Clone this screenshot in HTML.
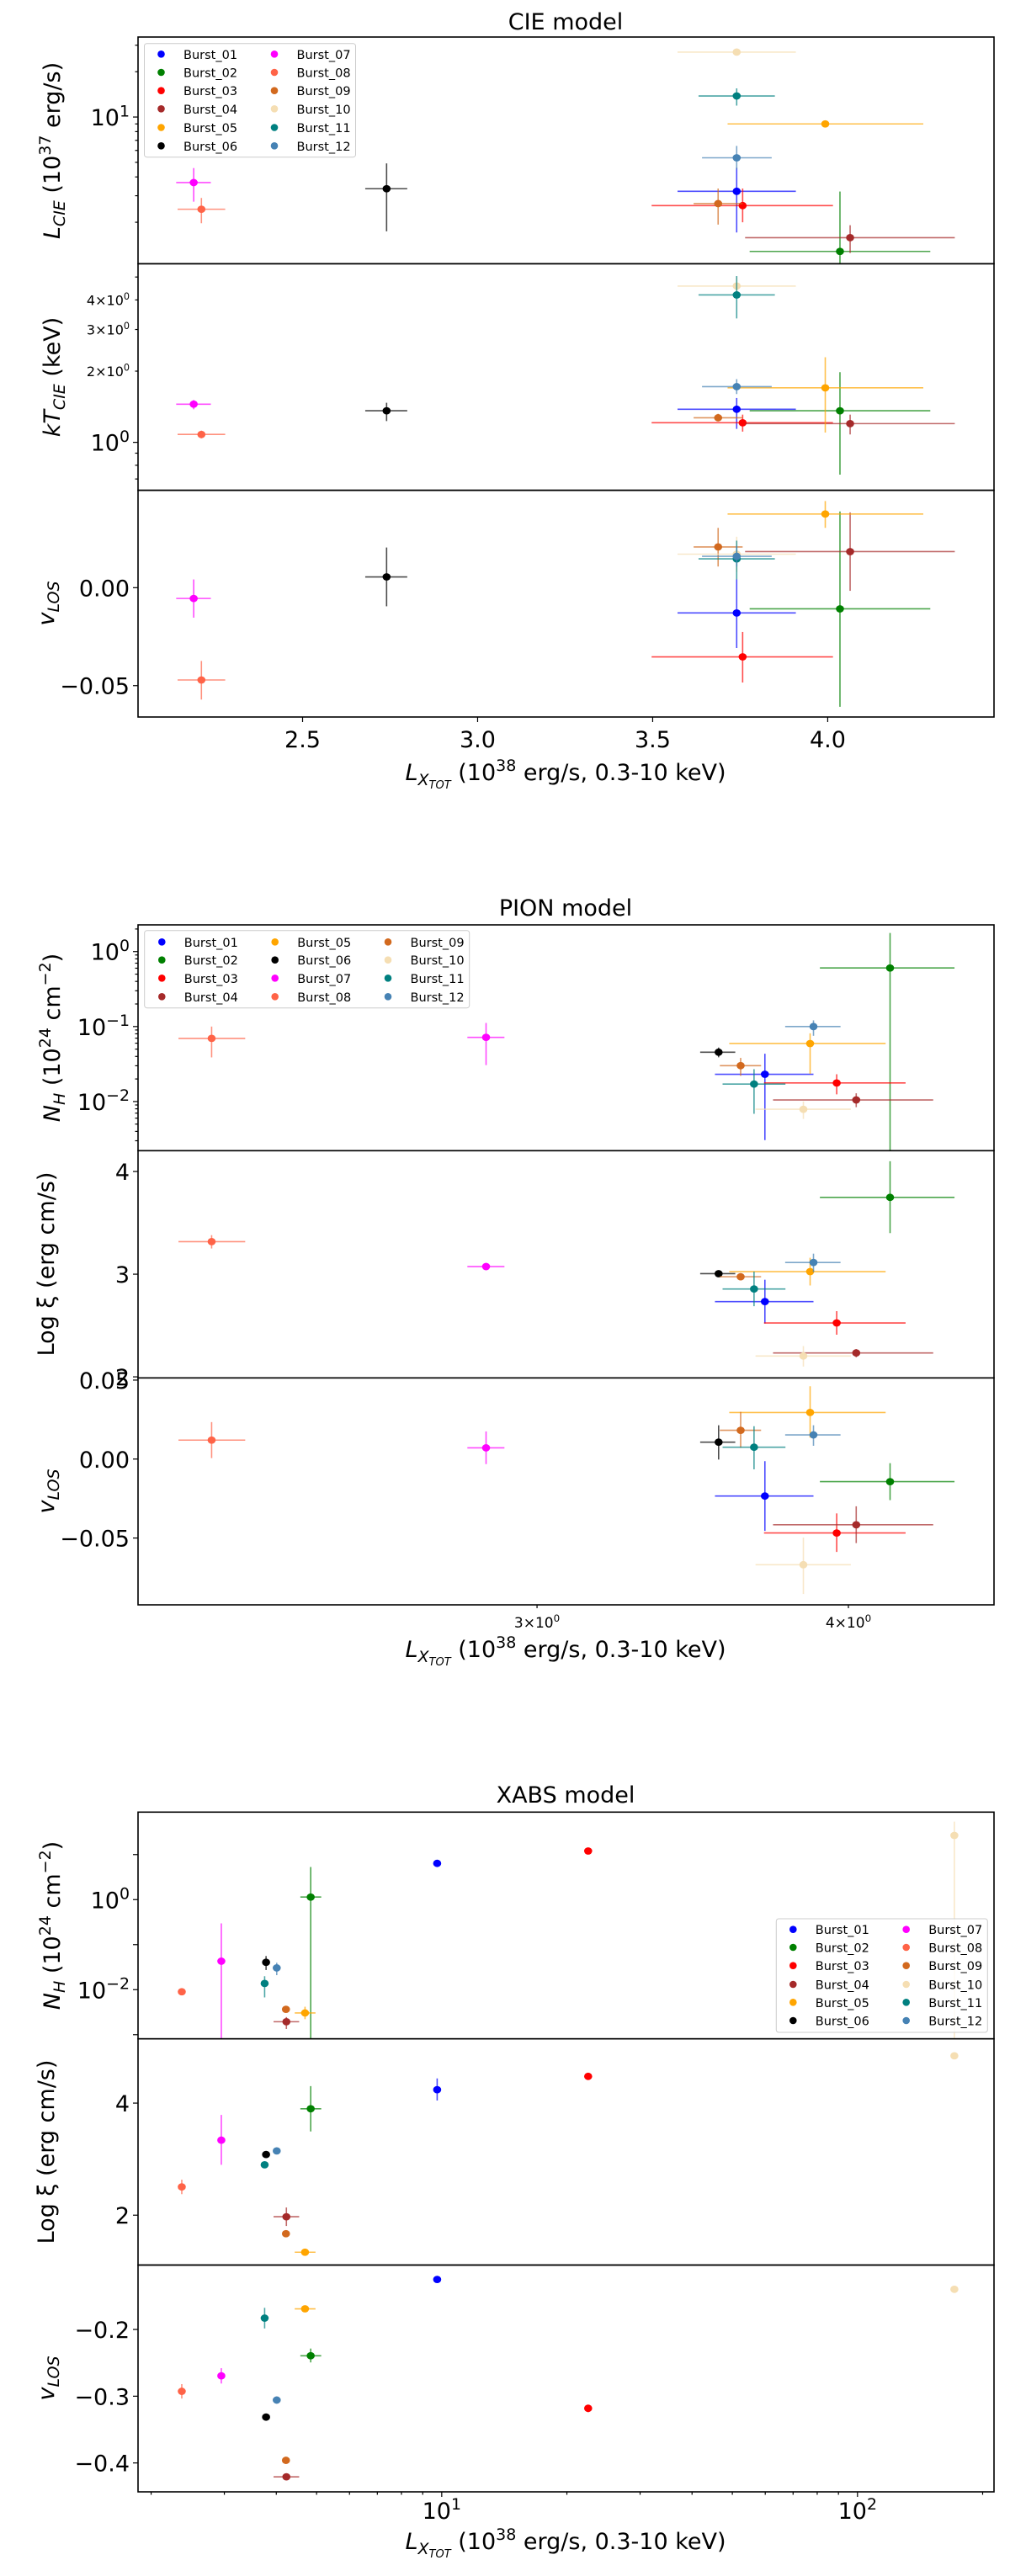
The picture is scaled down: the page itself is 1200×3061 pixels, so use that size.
<!DOCTYPE html>
<html><head><meta charset="utf-8">
<style>
html,body{margin:0;padding:0;background:#fff;}
svg{display:block;font-family:"DejaVu Sans","Liberation Sans",sans-serif;}
.leg text{font-size:14.5px;}
</style></head>
<body>
<svg id="chart" xmlns="http://www.w3.org/2000/svg" width="1200" height="3061" viewBox="0 0 1200 3061">
<rect x="0" y="0" width="1200" height="3061" fill="#fff"/>
<!-- titles -->
<text x="672" y="35" font-size="27" text-anchor="middle">CIE model</text>
<text x="672" y="1088" font-size="27" text-anchor="middle">PION model</text>
<text x="672" y="2142" font-size="27" text-anchor="middle">XABS model</text>
<!-- x labels -->
<text x="672" y="927" font-size="27" text-anchor="middle"><tspan font-style="italic">L</tspan><tspan font-size="19" dy="6" font-style="italic">X</tspan><tspan font-size="13" dy="4" font-style="italic">TOT</tspan><tspan dy="-10"> (10</tspan><tspan font-size="19" dy="-11">38</tspan><tspan dy="11"> erg/s, 0.3-10 keV)</tspan></text>
<text x="672" y="1969" font-size="27" text-anchor="middle"><tspan font-style="italic">L</tspan><tspan font-size="19" dy="6" font-style="italic">X</tspan><tspan font-size="13" dy="4" font-style="italic">TOT</tspan><tspan dy="-10"> (10</tspan><tspan font-size="19" dy="-11">38</tspan><tspan dy="11"> erg/s, 0.3-10 keV)</tspan></text>
<text x="672" y="3029" font-size="27" text-anchor="middle"><tspan font-style="italic">L</tspan><tspan font-size="19" dy="6" font-style="italic">X</tspan><tspan font-size="13" dy="4" font-style="italic">TOT</tspan><tspan dy="-10"> (10</tspan><tspan font-size="19" dy="-11">38</tspan><tspan dy="11"> erg/s, 0.3-10 keV)</tspan></text>
<!-- y labels -->
<text transform="translate(71,179) rotate(-90)" font-size="27" text-anchor="middle"><tspan font-style="italic">L</tspan><tspan font-size="19" dy="6" font-style="italic">CIE</tspan><tspan dy="-6"> (10</tspan><tspan font-size="19" dy="-11">37</tspan><tspan dy="11"> erg/s)</tspan></text>
<text transform="translate(71,448) rotate(-90)" font-size="27" text-anchor="middle"><tspan font-style="italic">kT</tspan><tspan font-size="19" dy="6" font-style="italic">CIE</tspan><tspan dy="-6"> (keV)</tspan></text>
<text transform="translate(64,717) rotate(-90)" font-size="27" text-anchor="middle"><tspan font-style="italic">v</tspan><tspan font-size="19" dy="6" font-style="italic">LOS</tspan></text>
<text transform="translate(71,1233) rotate(-90)" font-size="27" text-anchor="middle"><tspan font-style="italic">N</tspan><tspan font-size="19" dy="6" font-style="italic">H</tspan><tspan dy="-6"> (10</tspan><tspan font-size="19" dy="-11">24</tspan><tspan dy="11"> cm</tspan><tspan font-size="19" dy="-11">−2</tspan><tspan dy="11">)</tspan></text>
<text transform="translate(64,1502) rotate(-90)" font-size="27" text-anchor="middle">Log ξ (erg cm/s)</text>
<text transform="translate(64,1772) rotate(-90)" font-size="27" text-anchor="middle"><tspan font-style="italic">v</tspan><tspan font-size="19" dy="6" font-style="italic">LOS</tspan></text>
<text transform="translate(71,2288) rotate(-90)" font-size="27" text-anchor="middle"><tspan font-style="italic">N</tspan><tspan font-size="19" dy="6" font-style="italic">H</tspan><tspan dy="-6"> (10</tspan><tspan font-size="19" dy="-11">24</tspan><tspan dy="11"> cm</tspan><tspan font-size="19" dy="-11">−2</tspan><tspan dy="11">)</tspan></text>
<text transform="translate(64,2557) rotate(-90)" font-size="27" text-anchor="middle">Log ξ (erg cm/s)</text>
<text transform="translate(64,2826) rotate(-90)" font-size="27" text-anchor="middle"><tspan font-style="italic">v</tspan><tspan font-size="19" dy="6" font-style="italic">LOS</tspan></text>
<g id="marks"></g>
<g id="frames"></g>
<g id="legends"></g>
</svg>
<script>
const bursts=['Burst_01','Burst_02','Burst_03','Burst_04','Burst_05','Burst_06','Burst_07','Burst_08','Burst_09','Burst_10','Burst_11','Burst_12'];
const colors=['#0000ff','#008000','#ff0000','#a52a2a','#ffa500','#000000','#ff00ff','#ff6347','#d2691e','#f5deb3','#008080','#4682b4'];

// CIE model data
const cieX=[3.740,4.035,3.757,4.064,3.993,2.740,2.189,2.211,3.687,3.740,3.740,3.740];
const cieXlo=[3.571,3.777,3.497,3.764,3.714,2.679,2.139,2.143,3.617,3.571,3.631,3.641];
const cieXhi=[3.909,4.293,4.015,4.363,4.273,2.799,2.238,2.279,3.757,3.909,3.849,3.840];
const cieL=[3.21,1.28,2.58,1.58,9.0,3.34,3.67,2.44,2.66,27.0,13.8,5.36];
const cieLlo=[1.71,0.9,2.0,1.25,8.8,1.74,2.74,1.97,1.93,26.5,11.9,4.48];
const cieLhi=[4.6,3.2,3.35,1.91,9.2,4.92,4.58,2.9,3.35,27.5,15.5,6.43];
const cieKT=[1.38,1.36,1.21,1.20,1.70,1.36,1.45,1.08,1.27,4.58,4.20,1.72];
const cieKTlo=[1.14,0.73,1.11,1.08,1.10,1.23,1.38,1.04,1.23,4.2,3.34,1.60];
const cieKThi=[1.54,1.98,1.31,1.31,2.29,1.47,1.51,1.12,1.32,5.0,5.05,1.85];
const cieV=[-0.0129,-0.0108,-0.0353,0.0184,0.0376,0.0055,-0.0055,-0.0471,0.0208,0.0171,0.0147,0.016];
const cieVlo=[-0.0308,-0.0608,-0.0484,-0.0016,0.0305,-0.0095,-0.0153,-0.0571,0.0108,0.008,0.0042,0.0108];
const cieVhi=[0.0042,0.0389,-0.0226,0.0384,0.0442,0.0205,0.0042,-0.0374,0.0305,0.026,0.024,0.0213];

// PION model data
const pionX=[3.703,4.157,3.957,4.029,3.861,3.548,2.862,2.221,3.621,3.837,3.666,3.873];
const pionXlo=[3.536,3.896,3.700,3.731,3.583,3.488,2.813,2.154,3.552,3.671,3.561,3.773];
const pionXhi=[3.873,4.412,4.217,4.326,4.140,3.603,2.911,2.291,3.690,4.009,3.774,3.971];
const pionNH=[0.0231,0.604,0.0177,0.0105,0.0594,0.0455,0.0718,0.0695,0.0301,0.00789,0.0171,0.100];
const pionNHlo=[0.00306,0.001,0.01247,0.00841,0.0234,0.0389,0.0306,0.0388,0.022,0.00585,0.00686,0.0753];
const pionNHhi=[0.0434,1.77,0.0231,0.0129,0.0813,0.0525,0.1117,0.1,0.0382,0.01,0.027,0.121];
const pionXi=[2.733,3.748,2.525,2.233,3.025,3.005,3.074,3.317,2.975,2.203,2.856,3.114];
const pionXiLo=[2.52,3.40,2.41,2.19,2.89,2.99,3.04,3.25,2.94,2.10,2.688,3.02];
const pionXiHi=[2.946,4.10,2.64,2.27,3.16,3.02,3.11,3.38,3.01,2.30,3.025,3.20];
const pionV=[-0.0234,-0.0143,-0.0468,-0.0416,0.0295,0.0107,0.0071,0.012,0.0182,-0.0669,0.0075,0.0153];
const pionVlo=[-0.0455,-0.026,-0.0588,-0.0532,0.0136,-0.0003,-0.0032,0.0006,0.0071,-0.0854,-0.0065,0.0084];
const pionVhi=[-0.0013,-0.0026,-0.0344,-0.0299,0.0461,0.0214,0.0175,0.0234,0.0299,-0.0497,0.0208,0.0214];

// XABS model data
const xabsX=[9.75,4.84,22.5,4.23,4.69,3.78,2.95,2.37,4.22,171,3.75,4.01];
const xabsXlo=[9.75,4.57,22.5,3.94,4.43,3.78,2.95,2.37,4.22,171,3.75,4.01];
const xabsXhi=[9.75,5.13,22.5,4.54,4.97,3.78,2.95,2.37,4.22,171,3.75,4.01];
const xabsNH=[6.38,1.14,12.0,0.00194,0.00304,0.0406,0.0429,0.0090,0.00366,26.6,0.01374,0.0304];
const xabsNHlo=[6.0,0.0005,11.5,0.00134,0.00221,0.0273,0.0005,0.0082,0.0034,0.0005,0.00673,0.021];
const xabsNHhi=[6.8,5.3,12.6,0.00246,0.00418,0.0558,0.296,0.0099,0.0041,54,0.0199,0.0396];
const xabsXi=[4.239,3.899,4.477,1.972,1.339,3.083,3.339,2.505,1.670,4.844,2.899,3.147];
const xabsXiLo=[4.046,3.495,4.43,1.807,1.30,3.04,2.899,2.375,1.64,4.80,2.85,3.11];
const xabsXiHi=[4.44,4.303,4.52,2.137,1.37,3.13,3.789,2.633,1.70,4.89,2.95,3.18];
const xabsV=[-0.1251,-0.2394,-0.3181,-0.4208,-0.1691,-0.3313,-0.2695,-0.2927,-0.3961,-0.1398,-0.183,-0.3058];
const xabsVlo=[-0.13,-0.2494,-0.324,-0.426,-0.174,-0.336,-0.281,-0.3035,-0.401,-0.145,-0.1985,-0.311];
const xabsVhi=[-0.12,-0.2286,-0.313,-0.416,-0.164,-0.326,-0.258,-0.2819,-0.391,-0.135,-0.1676,-0.301];

// Tick values
const cieXticks=[2.5,3.0,3.5,4.0];
const cieXtickLabels=['2.5','3.0','3.5','4.0'];
const cieVticks=[0,-0.05];
const cieVtickLabels=['0.00','−0.05'];
const pionXiTicks=[2,3,4];
const pionVticks=[0.05,0,-0.05];
const pionVtickLabels=['0.05','0.00','−0.05'];
const xabsXiTicks=[2,4];
const xabsVticks=[-0.2,-0.3,-0.4];
const xabsVtickLabels=['−0.2','−0.3','−0.4'];

const NS='http://www.w3.org/2000/svg';
const marksG=document.getElementById('marks');
const framesG=document.getElementById('frames');
const legG=document.getElementById('legends');
const X0=164,X1=1181;

function scale(d0,d1,p0,p1,log){
  if(log){const a=Math.log10(d0),b=Math.log10(d1);return v=>p0+(Math.log10(v)-a)/(b-a)*(p1-p0);}
  return v=>p0+(v-d0)/(d1-d0)*(p1-p0);
}
function mk(tag,parent){const e=document.createElementNS(NS,tag);parent.appendChild(e);return e;}

let clipId=0;
function panel(name,top,bot,sx,sy,xs,xlo,xhi,ys,ylo,yhi){
  clipId++;
  const cp=mk('clipPath',marksG);cp.setAttribute('id','clip'+clipId);
  const cr=mk('rect',cp);cr.setAttribute('x',X0);cr.setAttribute('y',top);cr.setAttribute('width',X1-X0);cr.setAttribute('height',bot-top);
  const g=mk('g',marksG);g.setAttribute('clip-path','url(#clip'+clipId+')');
  
  
  for(let i=0;i<xs.length;i++){
    const pg=mk('g',g);
    
    
    const cx=sx(xs[i]),cy=sy(ys[i]);
    const h=mk('line',pg);h.setAttribute('x1',sx(xlo[i]));h.setAttribute('x2',sx(xhi[i]));h.setAttribute('y1',cy);h.setAttribute('y2',cy);
    h.setAttribute('stroke',colors[i]);h.setAttribute('stroke-width','1.6');h.setAttribute('stroke-opacity','0.7');
    const v=mk('line',pg);v.setAttribute('x1',cx);v.setAttribute('x2',cx);v.setAttribute('y1',sy(ylo[i]));v.setAttribute('y2',sy(yhi[i]));
    v.setAttribute('stroke',colors[i]);v.setAttribute('stroke-width','1.6');v.setAttribute('stroke-opacity','0.7');
    const c=mk('ellipse',pg);c.setAttribute('cx',cx);c.setAttribute('cy',cy);c.setAttribute('rx','4.8');c.setAttribute('ry','4.4');c.setAttribute('fill',colors[i]);
  }
  const fr=mk('rect',framesG);fr.setAttribute('x',X0);fr.setAttribute('y',top);fr.setAttribute('width',X1-X0);fr.setAttribute('height',bot-top);
  fr.setAttribute('fill','none');fr.setAttribute('stroke','#000');fr.setAttribute('stroke-width','1.6');
  
  
}
function tickY(y,len){const t=mk('line',framesG);t.setAttribute('x1',X0-len);t.setAttribute('x2',X0);t.setAttribute('y1',y);t.setAttribute('y2',y);t.setAttribute('stroke','#000');t.setAttribute('stroke-width','1.2');
  
  }
function tickX(x,y,len){const t=mk('line',framesG);t.setAttribute('x1',x);t.setAttribute('x2',x);t.setAttribute('y1',y);t.setAttribute('y2',y+len);t.setAttribute('stroke','#000');t.setAttribute('stroke-width','1.2');
  
  }
function label(x,y,parts,size,anchor,nm){
  const t=mk('text',framesG);t.setAttribute('x',x);t.setAttribute('y',y);t.setAttribute('font-size',size);t.setAttribute('text-anchor',anchor);
  
  
  let dy=0;
  parts.forEach(p=>{const s=mk('tspan',t);s.textContent=p[0];
    if(p[1]==='sup'){s.setAttribute('font-size',size*0.7);s.setAttribute('dy',-size*0.4);dy=size*0.4;}
    else if(dy){s.setAttribute('dy',dy);dy=0;}
  });
}
function supLabel(v){return [['10'],[String(v).replace('-','−'),'sup']];}
function logTicks(sy,d0,d1,labeled,minorLabeled,small){
  const a=Math.floor(Math.log10(d0)),b=Math.ceil(Math.log10(d1));
  for(let e=a;e<=b;e++){
    for(let m=1;m<10;m++){
      const v=m*Math.pow(10,e);if(v<d0||v>d1)continue;
      const y=sy(v);tickY(y,m===1?6:3.5);
      if(m===1&&labeled.indexOf(e)>=0)label(X0-10,y+10,supLabel(e),27,'end','y-tick-label');
      if(m>1&&minorLabeled&&minorLabeled.indexOf(v)>=0)label(X0-10,y+6,[[m+'×10'],['0','sup']],small,'end','y-tick-label');
    }
  }
}

// ---- CIE ----
const cx=scale(2.030,4.475,X0,X1,false);
const cT=[44,313.4,582.6,852];
const cy1=scale(1.06,34,cT[1],cT[0],true);
const cy2=scale(0.627,5.69,cT[2],cT[1],true);
const cy3=scale(-0.066,0.0497,cT[3],cT[2],false);
panel('cie-luminosity',cT[0],cT[1],cx,cy1,cieX,cieXlo,cieXhi,cieL,cieLlo,cieLhi);
panel('cie-temperature',cT[1],cT[2],cx,cy2,cieX,cieXlo,cieXhi,cieKT,cieKTlo,cieKThi);
panel('cie-velocity',cT[2],cT[3],cx,cy3,cieX,cieXlo,cieXhi,cieV,cieVlo,cieVhi);
logTicks(cy1,1.06,34,[1]);
logTicks(cy2,0.627,5.69,[0],[2,3,4],16);
cieVticks.forEach((v,i)=>{tickY(cy3(v),6);label(X0-10,cy3(v)+10,[[cieVtickLabels[i]]],27,'end','y-tick-label');});
cieXticks.forEach((v,i)=>{tickX(cx(v),cT[3],6);label(cx(v),cT[3]+36,[[cieXtickLabels[i]]],27,'middle','x-tick-label');});

// ---- PION ----
const px=scale(2.075,4.576,X0,X1,true);
const pT=[1099,1367.3,1637.3,1907];
const py1=scale(Math.pow(10,-2.655),Math.pow(10,0.356),pT[1],pT[0],true);
const py2=scale(1.99,4.203,pT[2],pT[1],false);
const py3=scale(-0.0923,0.0514,pT[3],pT[2],false);
panel('pion-nh',pT[0],pT[1],px,py1,pionX,pionXlo,pionXhi,pionNH,pionNHlo,pionNHhi);
panel('pion-xi',pT[1],pT[2],px,py2,pionX,pionXlo,pionXhi,pionXi,pionXiLo,pionXiHi);
panel('pion-velocity',pT[2],pT[3],px,py3,pionX,pionXlo,pionXhi,pionV,pionVlo,pionVhi);
logTicks(py1,Math.pow(10,-2.655),Math.pow(10,0.356),[0,-1,-2]);
pionXiTicks.forEach(v=>{tickY(py2(v),6);label(X0-10,py2(v)+10,[[String(v)]],27,'end','y-tick-label');});
pionVticks.forEach((v,i)=>{tickY(py3(v),6);label(X0-10,py3(v)+10,[[pionVtickLabels[i]]],27,'end','y-tick-label');});
[3,4].forEach(v=>{tickX(px(v),pT[3],4);label(px(v),pT[3]+27,[[v+'×10'],['0','sup']],17,'middle','x-tick-label');});

// ---- XABS ----
const xx=scale(1.86,213,X0,X1,true);
const xT=[2153.3,2422.7,2691.5,2961];
const xy1=scale(Math.pow(10,-3.092),Math.pow(10,1.943),xT[1],xT[0],true);
const xy2=scale(1.110,5.147,xT[2],xT[1],false);
const xy3=scale(-0.4433,-0.1035,xT[3],xT[2],false);
panel('xabs-nh',xT[0],xT[1],xx,xy1,xabsX,xabsXlo,xabsXhi,xabsNH,xabsNHlo,xabsNHhi);
panel('xabs-xi',xT[1],xT[2],xx,xy2,xabsX,xabsXlo,xabsXhi,xabsXi,xabsXiLo,xabsXiHi);
panel('xabs-velocity',xT[2],xT[3],xx,xy3,xabsX,xabsXlo,xabsXhi,xabsV,xabsVlo,xabsVhi);
(function(){const a=-4,b=2;for(let e=a;e<=b;e++){const v=Math.pow(10,e);if(v<Math.pow(10,-3.092)||v>Math.pow(10,1.943))continue;tickY(xy1(v),6);if(e===0||e===-2)label(X0-10,xy1(v)+10,supLabel(e),27,'end','y-tick-label');}})();
xabsXiTicks.forEach(v=>{tickY(xy2(v),6);label(X0-10,xy2(v)+10,[[String(v)]],27,'end','y-tick-label');});
xabsVticks.forEach((v,i)=>{tickY(xy3(v),6);label(X0-10,xy3(v)+10,[[xabsVtickLabels[i]]],27,'end','y-tick-label');});
(function(){for(let e=0;e<=2;e++)for(let m=1;m<10;m++){const v=m*Math.pow(10,e);if(v<1.86||v>213)continue;tickX(xx(v),xT[3],m===1?6:3.5);if(m===1)label(xx(v),xT[3]+32,supLabel(e),27,'middle','x-tick-label');}})();

// ---- Legends ----
function legend(name,bx,by,bw,bh,rows,colX,rowY){
  const g=mk('g',legG);g.setAttribute('class','leg');
  
  
  const r=mk('rect',g);r.setAttribute('x',bx);r.setAttribute('y',by);r.setAttribute('width',bw);r.setAttribute('height',bh);r.setAttribute('rx','3');
  r.setAttribute('fill','#fff');r.setAttribute('fill-opacity','0.8');r.setAttribute('stroke','#ccc');r.setAttribute('stroke-width','1');
  bursts.forEach((b,i)=>{
    const col=Math.floor(i/rows),row=i%rows;
    const e=mk('g',g);
    
    
    const c=mk('circle',e);c.setAttribute('cx',colX[col]);c.setAttribute('cy',rowY[row]);c.setAttribute('r','4.3');c.setAttribute('fill',colors[i]);
    const t=mk('text',e);t.setAttribute('x',colX[col]+26.5);t.setAttribute('y',rowY[row]+5.5);t.textContent=b;
  });
}
legend('cie-legend',171.5,51.7,251,135,6,[191.5,326],[64.3,86,107.7,129.3,151.5,173.3]);
legend('pion-legend',171.7,1105.7,386,92,4,[192.3,326.7,461],[1119.3,1140.7,1162.3,1184.3]);
legend('xabs-legend',922.3,2280,251,135,6,[942.3,1076.7],[2292.7,2314,2335.7,2358,2379.3,2401]);
</script>
</body></html>
